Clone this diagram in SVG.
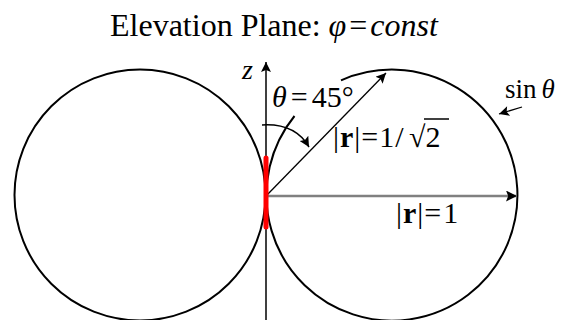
<svg xmlns="http://www.w3.org/2000/svg" width="563" height="320" viewBox="0 0 563 320">
<style>
.t{font-family:"Liberation Serif","Times New Roman",serif;fill:#000}
.i{font-style:italic}
.b{font-weight:bold}
.c{fill:none;stroke:#000;stroke-width:2}
</style>
<defs>
<marker id="ah" viewBox="0 0 10 10" refX="10" refY="5" markerWidth="13" markerHeight="10" markerUnits="userSpaceOnUse" orient="auto">
<path d="M0,0 L10,5 L0,10 L2,5 Z" fill="#000"/>
</marker>
<marker id="ahg" viewBox="0 0 10 10" refX="10" refY="5" markerWidth="15" markerHeight="11" markerUnits="userSpaceOnUse" orient="auto">
<path d="M0,0 L10,5 L0,10 L2,5 Z" fill="#000"/>
</marker>
</defs>
<rect width="563" height="320" fill="#fff"/>
<text class="t" x="110" y="36" font-size="32">Elevation Plane: <tspan class="i">φ</tspan><tspan dx="3">=</tspan><tspan class="i" dx="3">const</tspan></text>
<g id="left-lobe"><circle class="c" cx="140" cy="195" r="125.5"/></g>
<g id="right-lobe"><path class="c" d="M341,80.4 A125.5,125.5 0 1 1 294.5,116"/></g>
<g id="connectors">
<line x1="266" y1="320" x2="266" y2="62" stroke="#000" stroke-width="1.5" marker-end="url(#ah)"/>
<line x1="266" y1="196" x2="517" y2="196" stroke="#808080" stroke-width="2.5" marker-end="url(#ahg)"/>
<line x1="266" y1="196" x2="386" y2="73" stroke="#000" stroke-width="1.3" marker-end="url(#ah)"/>
<path d="M262,125 Q295,123 309,147" fill="none" stroke="#000" stroke-width="1.5" marker-end="url(#ah)"/>
<line x1="522" y1="107" x2="499" y2="114" stroke="#000" stroke-width="1.3" marker-end="url(#ah)"/>
</g>
<g id="red-segment"><line x1="266" y1="158" x2="266" y2="227" stroke="#ff0000" stroke-width="5" stroke-linecap="round"/></g>
<g id="labels">
<text class="t i" x="242" y="79" font-size="28">z</text>
<text class="t" x="272" y="107" font-size="30"><tspan class="i">θ</tspan><tspan dx="4">=</tspan><tspan dx="4">45°</tspan></text>
<text class="t" x="505" y="98" font-size="27">sin<tspan class="i" dx="5">θ</tspan></text>
<text class="t" x="333" y="147" font-size="30">|<tspan class="b" dx="1">r</tspan><tspan dx="1">|</tspan><tspan dx="1">=</tspan><tspan dx="1">1</tspan><tspan dx="1">/</tspan></text>
<text class="t" x="409" y="147" font-size="30">√<tspan dx="0">2</tspan></text>
<line x1="424" y1="119" x2="449" y2="119" stroke="#000" stroke-width="1.5"/>
<text class="t" x="396" y="223" font-size="30">|<tspan class="b" dx="1">r</tspan><tspan dx="1">|</tspan><tspan dx="1">=</tspan><tspan dx="2">1</tspan></text>
</g>
</svg>
